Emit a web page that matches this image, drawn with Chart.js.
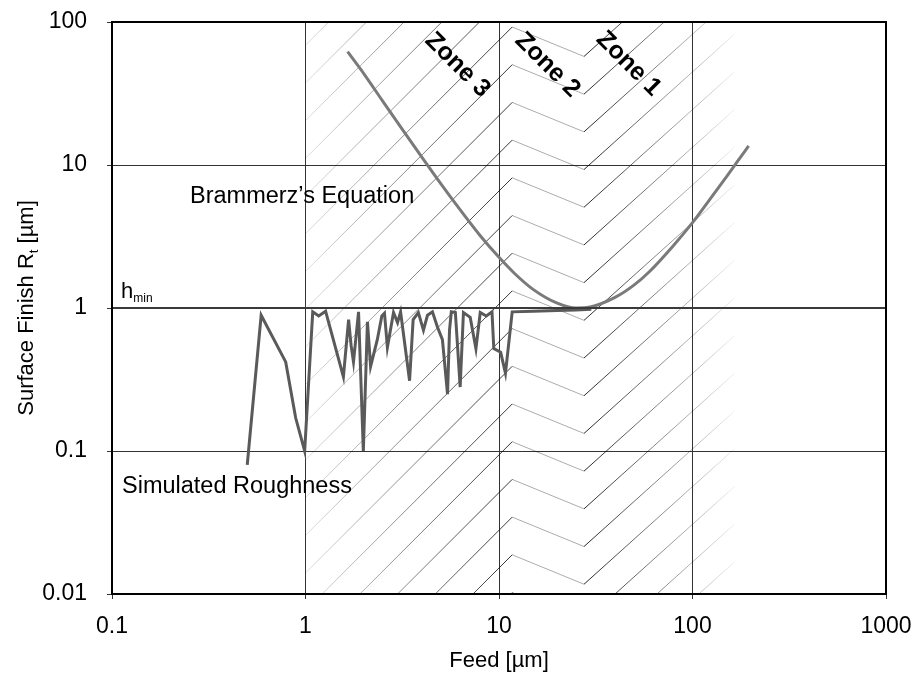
<!DOCTYPE html>
<html><head><meta charset="utf-8">
<script src="https://cdn.jsdelivr.net/npm/chart.js@4.4.0/dist/chart.umd.min.js"></script>
<style>html,body{margin:0;padding:0;background:#fff;}#wrap{width:921px;height:679px;}</style>
</head><body><div id="wrap"><canvas id="c" width="921" height="679"></canvas></div>
<script>
// ---- data ----
const xTicks = [0.1, 1, 10, 100, 1000];
const yTicks = [0.01, 0.1, 1, 10, 100];
const brammerzX = [1.65, 2, 2.5, 3, 4, 5, 6, 8, 10, 12, 15, 20, 25, 30, 40, 50, 60, 80, 100, 120, 150, 170, 195];
const brammerzY = [62, 43.6, 28.1, 19.7, 11.3, 7.4, 5.3, 3.2, 2.26, 1.75, 1.35, 1.08, 1.0, 1.02, 1.19, 1.45, 1.8, 2.75, 3.95, 5.5, 8.3, 10.5, 13.6];
const simX = [0.5, 0.59, 0.79, 0.89, 0.99, 1.09, 1.17, 1.27, 1.57, 1.67, 1.72, 1.77, 1.88, 1.99, 2.09, 2.17, 2.35, 2.48, 2.56, 2.65, 2.85, 2.99, 3.1, 3.45, 3.6, 3.83, 4.07, 4.27, 4.53, 4.8, 5.1, 5.42, 5.55, 5.67, 5.95, 6.3, 6.55, 7.1, 7.6, 8.0, 8.6, 9.2, 9.4, 10.2, 10.8, 11.7, 15, 20, 25, 30];
const simY = [0.08, 0.89, 0.42, 0.17, 0.1, 0.94, 0.88, 0.95, 0.33, 0.83, 0.55, 0.42, 0.94, 0.1, 0.8, 0.39, 0.6, 0.88, 0.92, 0.53, 0.93, 0.79, 0.94, 0.31, 0.83, 0.93, 0.7, 0.89, 0.94, 0.74, 0.6, 0.25, 0.7, 0.94, 0.93, 0.28, 0.93, 0.86, 0.52, 0.93, 0.88, 0.94, 0.52, 0.49, 0.35, 0.94, 0.95, 0.96, 0.97, 0.98];
const hminX = [0.1, 1000];
const hminY = [1, 1];
const zoneBounds = [1, 11.7, 27.5, 165];
const zoneNames = ['Zone 3', 'Zone 2', 'Zone 1'];

const FONT = "'Liberation Sans', Arial, sans-serif";
const toPts = (xs, ys) => xs.map((v, i) => ({x: v, y: ys[i]}));

const annot = {
  zones: [{x: 6.1, y: 50}, {x: 17.8, y: 50}, {x: 46.7, y: 51}],
  brammerz: {x: 190, y: 197},
  sim: {x: 122, y: 487},
  hmin: {x: 121, y: 298}
};

const noPad = ax => { ax.paddingTop = 0; ax.paddingBottom = 0; ax.paddingLeft = 0; ax.paddingRight = 0; };

const decor = {
  id: 'decor',
  beforeDatasetsDraw(chart) {
    const {ctx, chartArea: a, scales: {x}} = chart;
    const b = zoneBounds.map(v => x.getPixelForValue(v));
    const gap = 37.7, phase = a.top + 80.4;
    ctx.save();
    ctx.beginPath(); ctx.rect(a.left, a.top, a.right - a.left, a.bottom - a.top); ctx.clip();
    ctx.lineWidth = 1;
    let g = ctx.createLinearGradient(b[0], 0, b[1], 0);
    g.addColorStop(0, 'rgba(0,0,0,0.12)'); g.addColorStop(1, 'rgba(0,0,0,0.8)');
    ctx.strokeStyle = g; ctx.beginPath();
    for (let k = -20; k < 30; k++) {
      const p = phase + k * gap;
      ctx.moveTo(b[1], p); ctx.lineTo(b[0], p + (b[1] - b[0]) * 1.0);
    }
    ctx.stroke();
    ctx.strokeStyle = 'rgba(0,0,0,0.33)'; ctx.beginPath();
    for (let k = -20; k < 30; k++) {
      const p = phase + k * gap;
      ctx.moveTo(b[1], p); ctx.lineTo(b[2], p + (b[2] - b[1]) * 0.41);
    }
    ctx.stroke();
    g = ctx.createLinearGradient(b[2], 0, b[3], 0);
    g.addColorStop(0, 'rgba(0,0,0,0.85)'); g.addColorStop(1, 'rgba(0,0,0,0.06)');
    ctx.strokeStyle = g; ctx.beginPath();
    for (let k = -20; k < 30; k++) {
      const v = phase + k * gap + (b[2] - b[1]) * 0.41;
      ctx.moveTo(b[2], v); ctx.lineTo(b[3], v - (b[3] - b[2]) * 0.9);
    }
    ctx.stroke();
    ctx.restore();
  },
  afterDraw(chart) {
    const {ctx, chartArea: a, scales: {x, y}} = chart;
    ctx.save();
    ctx.strokeStyle = '#000'; ctx.lineWidth = 2;
    ctx.strokeRect(a.left, a.top, a.right - a.left, a.bottom - a.top);
    ctx.fillStyle = '#000';
    ctx.font = 'bold 25px ' + FONT;
    ctx.textAlign = 'center'; ctx.textBaseline = 'middle';
    annot.zones.forEach((z, i) => {
      ctx.save();
      ctx.translate(x.getPixelForValue(z.x), y.getPixelForValue(z.y));
      ctx.rotate(Math.PI / 4);
      ctx.fillText(zoneNames[i], 0, 0);
      ctx.restore();
    });
    ctx.font = '23.5px ' + FONT; ctx.textAlign = 'left'; ctx.textBaseline = 'middle';
    ctx.fillText("Brammerz\u2019s Equation", annot.brammerz.x, annot.brammerz.y);
    ctx.fillText('Simulated Roughness', annot.sim.x, annot.sim.y);
    ctx.textBaseline = 'alphabetic';
    ctx.font = '22px ' + FONT;
    ctx.fillText('h', annot.hmin.x, annot.hmin.y);
    const hw = ctx.measureText('h').width;
    ctx.font = '12px ' + FONT;
    ctx.fillText('min', annot.hmin.x + hw, annot.hmin.y + 4);
    ctx.font = '22px ' + FONT; ctx.textAlign = 'center'; ctx.textBaseline = 'middle';
    ctx.fillText('Feed [\u00b5m]', (a.left + a.right) / 2, 661);
    ctx.save();
    ctx.translate(27, (a.top + a.bottom) / 2);
    ctx.rotate(-Math.PI / 2);
    ctx.textAlign = 'left'; ctx.textBaseline = 'middle';
    const p1 = 'Surface Finish R', p2 = 't', p3 = ' [\u00b5m]';
    ctx.font = '22px ' + FONT; const w1 = ctx.measureText(p1).width, w3 = ctx.measureText(p3).width;
    ctx.font = '13px ' + FONT; const w2 = ctx.measureText(p2).width;
    let sx = -(w1 + w2 + w3) / 2;
    ctx.font = '22px ' + FONT; ctx.fillText(p1, sx, 0); sx += w1;
    ctx.font = '13px ' + FONT; ctx.fillText(p2, sx, 7); sx += w2;
    ctx.font = '22px ' + FONT; ctx.fillText(p3, sx, 0);
    ctx.restore();
    ctx.restore();
  }
};

new Chart(document.getElementById('c'), {
  type: 'scatter',
  data: {
    datasets: [
      {label: 'hmin', data: toPts(hminX, hminY), showLine: true, borderColor: '#3a3a3a', borderWidth: 2, pointRadius: 0},
      {label: 'Simulated Roughness', data: toPts(simX, simY), showLine: true, borderColor: '#5a5a5a', borderWidth: 3, pointRadius: 0, tension: 0},
      {label: "Brammerz's Equation", data: toPts(brammerzX, brammerzY), showLine: true, borderColor: '#7a7a7a', borderWidth: 3, pointRadius: 0, cubicInterpolationMode: 'monotone'}
    ]
  },
  options: {
    responsive: false, animation: false, devicePixelRatio: 1,
    layout: {padding: {top: 22, right: 35, left: 0, bottom: 0}},
    plugins: {legend: {display: false}, tooltip: {enabled: false}},
    scales: {
      x: {
        type: 'logarithmic', min: 0.1, max: 1000,
        afterBuildTicks: ax => { ax.ticks = xTicks.map(v => ({value: v})); },
        afterFit: ax => { ax.height = 85; noPad(ax); },
        ticks: {color: '#000', font: {size: 23, family: FONT}, padding: 14, maxRotation: 0, autoSkip: false, callback: v => String(v)},
        grid: {color: '#333', lineWidth: 1, tickLength: 5},
        border: {display: true, color: '#000', width: 2}
      },
      y: {
        type: 'logarithmic', min: 0.01, max: 100,
        afterBuildTicks: ax => { ax.ticks = yTicks.map(v => ({value: v})); },
        afterFit: ax => { ax.width = 112; noPad(ax); },
        ticks: {color: '#000', font: {size: 23, family: FONT}, padding: 20, autoSkip: false, callback: v => String(v)},
        grid: {color: '#333', lineWidth: 1, tickLength: 5},
        border: {display: true, color: '#000', width: 2}
      }
    }
  },
  plugins: [decor]
});
</script></body></html>
